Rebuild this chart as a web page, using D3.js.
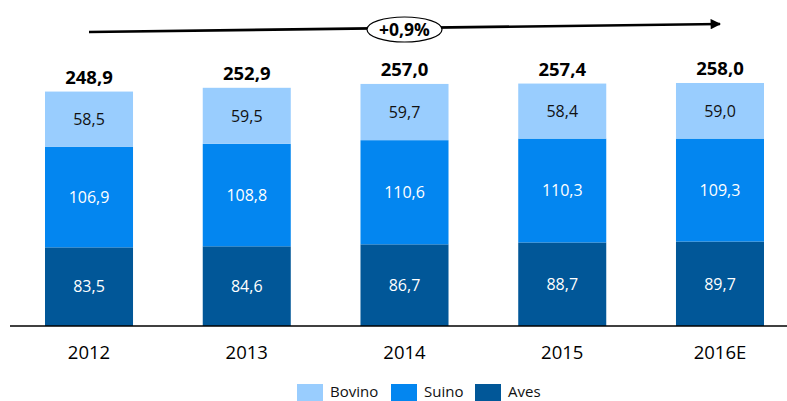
<!DOCTYPE html>
<meta charset="utf-8">
<style>
  body { margin: 0; background: #fff; }
  svg { display: block; font-family: "Open Sans", sans-serif; }
</style>
<svg width="787" height="401"></svg>
<script src="https://cdn.jsdelivr.net/npm/d3@7"></script>
<script>
// data
var years = ["2012", "2013", "2014", "2015", "2016E"];
var aves = [83.5, 84.6, 86.7, 88.7, 89.7];
var suino = [106.9, 108.8, 110.6, 110.3, 109.3];
var bovino = [58.5, 59.5, 59.7, 58.4, 59.0];
var totals = [248.9, 252.9, 257.0, 257.4, 258.0];
var seriesNames = ["Aves", "Suino", "Bovino"];
var growthLabel = "+0,9%";

var colors = { Aves: "#015798", Suino: "#0386F0", Bovino: "#99CDFE" };
var labelColors = { Aves: "#ffffff", Suino: "#ffffff", Bovino: "#111111" };

var svg = d3.select("svg");
var baseY = 326;

var rows = years.map(function (y, i) {
  return { year: y, Aves: aves[i], Suino: suino[i], Bovino: bovino[i], total: totals[i] };
});

var x = d3.scaleBand()
  .domain(years)
  .range([45, 764])
  .paddingInner(0.442)
  .paddingOuter(0);

var y = d3.scaleLinear()
  .domain([0, 300])
  .range([baseY, baseY - 300 * 0.9419]);

var fmt = function (v) { return d3.format(".1f")(v).replace(".", ","); };

var stacked = d3.stack().keys(seriesNames)(rows);

var layer = svg.selectAll(".layer")
  .data(stacked)
  .enter().append("g")
  .attr("class", "layer")
  .attr("fill", function (d) { return colors[d.key]; });

layer.selectAll("rect")
  .data(function (d) { return d; })
  .enter().append("rect")
  .attr("x", function (d) { return x(d.data.year); })
  .attr("y", function (d) { return y(d[1]); })
  .attr("width", x.bandwidth())
  .attr("height", function (d) { return y(d[0]) - y(d[1]); });

// segment labels
stacked.forEach(function (s) {
  svg.append("g").selectAll("text")
    .data(s)
    .enter().append("text")
    .attr("x", function (d) { return x(d.data.year) + x.bandwidth() / 2; })
    .attr("y", function (d) { return (y(d[0]) + y(d[1])) / 2; })
    .attr("dy", "0.36em")
    .attr("text-anchor", "middle")
    .attr("font-size", 16)
    .attr("fill", labelColors[s.key])
    .text(function (d) { return fmt(d.data[s.key]); });
});

// totals
svg.append("g").selectAll("text")
  .data(rows)
  .enter().append("text")
  .attr("x", function (d) { return x(d.year) + x.bandwidth() / 2; })
  .attr("y", function (d) { return y(d.total) - 8; })
  .attr("text-anchor", "middle")
  .attr("font-size", 18.5)
  .attr("font-weight", "bold")
  .attr("fill", "#000")
  .text(function (d) { return fmt(d.total); });

// baseline
svg.append("line")
  .attr("x1", 10).attr("x2", 787)
  .attr("y1", baseY).attr("y2", baseY)
  .attr("stroke", "#000").attr("stroke-width", 1.5);

// year labels
svg.append("g").selectAll("text")
  .data(years)
  .enter().append("text")
  .attr("x", function (d) { return x(d) + x.bandwidth() / 2; })
  .attr("y", 359)
  .attr("text-anchor", "middle")
  .attr("font-size", 18.5)
  .attr("fill", "#000")
  .text(function (d) { return d; });

// growth arrow
svg.append("defs").append("marker")
  .attr("id", "arrow")
  .attr("viewBox", "0 0 10 10")
  .attr("refX", 9).attr("refY", 5)
  .attr("markerWidth", 4.5).attr("markerHeight", 4)
  .attr("orient", "auto")
  .append("path")
  .attr("d", "M0,0L10,5L0,10Z")
  .attr("fill", "#000");

var ax1 = x(years[0]) + x.bandwidth() / 2;
var ax2 = x(years[years.length - 1]) + x.bandwidth() / 2;
svg.append("line")
  .attr("x1", ax1).attr("y1", 32)
  .attr("x2", ax2).attr("y2", 24)
  .attr("stroke", "#000").attr("stroke-width", 2.6)
  .attr("marker-end", "url(#arrow)");

var cx = (ax1 + ax2) / 2;
svg.append("ellipse")
  .attr("cx", cx).attr("cy", 29.5)
  .attr("rx", 37.5).attr("ry", 12.5)
  .attr("fill", "#fff").attr("stroke", "#000").attr("stroke-width", 1.2);

svg.append("text")
  .attr("x", cx).attr("y", 29.5)
  .attr("dy", "0.36em")
  .attr("text-anchor", "middle")
  .attr("font-size", 17.5)
  .attr("font-weight", "bold")
  .text(growthLabel);

// legend
var legendItems = [
  { key: "Bovino", x: 297 },
  { key: "Suino", x: 391 },
  { key: "Aves", x: 475 }
];
var lg = svg.append("g").selectAll("g")
  .data(legendItems)
  .enter().append("g");
lg.append("rect")
  .attr("x", function (d) { return d.x; })
  .attr("y", 384)
  .attr("width", 26).attr("height", 17)
  .attr("fill", function (d) { return colors[d.key]; });
lg.append("text")
  .attr("x", function (d) { return d.x + 33; })
  .attr("y", 397)
  .attr("font-size", 15)
  .attr("fill", "#111")
  .text(function (d) { return d.key; });
</script>
